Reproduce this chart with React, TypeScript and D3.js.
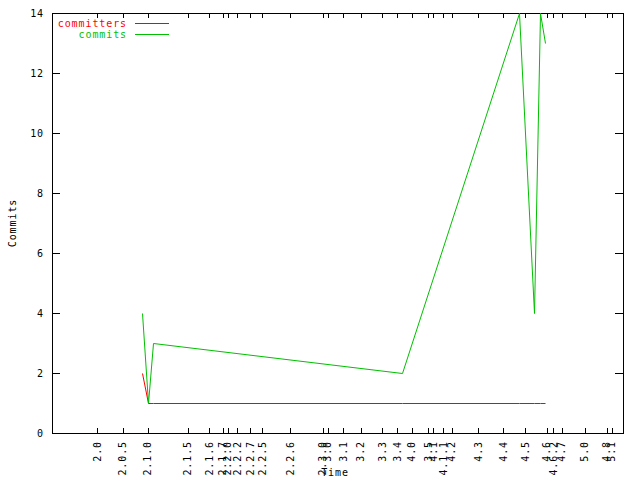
import React from 'react'
import * as d3 from 'd3'

// tag labels on the time axis (fractional years)
const tagNames = ['2.0', '2.0.5', '2.1.0', '2.1.5', '2.1.6', '2.1.7', '2.2.0', '2.2.2', '2.2.7', '2.2.5', '2.2.6',
  '2.3.0', '3.0', '3.1', '3.2', '3.3', '3.4', '4.0', '3.5', '4.1', '4.1.1', '4.2', '4.3', '4.4', '4.5',
  '4.6', '4.6.2', '4.7', '5.0', '4.8', '5.1']
const tagTimes = [2003.63, 2003.99, 2004.34, 2004.90, 2005.20, 2005.39, 2005.46, 2005.59, 2005.77, 2005.94, 2006.33,
  2006.79, 2006.86, 2007.07, 2007.32, 2007.62, 2007.83, 2008.03, 2008.26, 2008.33, 2008.47, 2008.59, 2008.96, 2009.31, 2009.62,
  2009.92, 2010.01, 2010.13, 2010.45, 2010.76, 2010.83]

// series
const times = [2004.26, 2004.34, 2004.41, 2007.90, 2009.53, 2009.74, 2009.83, 2009.90]
const committers = [2, 1, 1, 1, 1, 1, 1, 1]
const commits = [4, 1, 3, 2, 14, 4, 14, 13]
const yTicks = [0, 2, 4, 6, 8, 10, 12, 14]

const W = 640
const H = 480
const left = 52, right = 623, top = 13, bottom = 433
const font = '"DejaVu Sans Mono", monospace'
const fs = 10
const ls = 0.9

export default function App() {
  const x = d3.scaleLinear().domain([2003, 2011]).range([52, 624])
  const y = d3.scaleLinear().domain([0, 14]).range([bottom, top])
  const px = (v: number) => Math.round(v) + 0.5

  const line = (vals: number[]) =>
    d3.line<number>()
      .x((_, i) => px(x(times[i])))
      .y((d) => px(y(d)))(vals) || ''

  const series = [
    { name: 'committers', vals: committers, color: '#ff0000', ly: 23 },
    { name: 'commits', vals: commits, color: '#00c000', ly: 34 },
  ]

  return (
    <svg width={W} height={H} style={{ position: 'absolute', left: 0, top: 0, background: '#fff' }}
      fontFamily={font} fontSize={fs}>
      <rect x={0} y={0} width={W} height={H} fill="#fff" />
      {/* y ticks */}
      {yTicks.map((t) => (
        <g key={'y' + t}>
          <line x1={left} x2={left + 8} y1={px(y(t))} y2={px(y(t))} stroke="#000" shapeRendering="crispEdges" />
          <line x1={right - 8} x2={right} y1={px(y(t))} y2={px(y(t))} stroke="#000" shapeRendering="crispEdges" />
          <text x={44} y={y(t)} textAnchor="end" dominantBaseline="central" letterSpacing={ls}>{t}</text>
        </g>
      ))}
      {/* x ticks */}
      {tagTimes.map((t, i) => (
        <g key={'x' + i}>
          <line x1={px(x(t))} x2={px(x(t))} y1={bottom - 5} y2={bottom} stroke="#000" shapeRendering="crispEdges" />
          <line x1={px(x(t))} x2={px(x(t))} y1={top} y2={top + 5} stroke="#000" shapeRendering="crispEdges" />
          <text transform={`translate(${x(t)},${441}) rotate(-90)`} textAnchor="end" dominantBaseline="central"
            letterSpacing={ls}>{tagNames[i]}</text>
        </g>
      ))}
      {/* frame */}
      <rect x={left + 0.5} y={top + 0.5} width={right - left} height={bottom - top} fill="none" stroke="#000"
        shapeRendering="crispEdges" />
      {/* axis labels */}
      <text transform="translate(12,223) rotate(-90)" textAnchor="middle" dominantBaseline="central" letterSpacing={ls}>Commits</text>
      <text x={335} y={472} textAnchor="middle" dominantBaseline="central" letterSpacing={ls}>Time</text>
      {/* series + legend */}
      {series.map((s) => (
        <g key={s.name}>
          <path d={line(s.vals)} fill="none" stroke={s.color} strokeWidth={1} />
          <text x={127} y={s.ly} textAnchor="end" dominantBaseline="central" fill={s.color} letterSpacing={ls}>{s.name}</text>
          <line x1={135} x2={169} y1={s.ly + 0.5} y2={s.ly + 0.5} stroke={s.color} shapeRendering="crispEdges" />
        </g>
      ))}
    </svg>
  )
}
